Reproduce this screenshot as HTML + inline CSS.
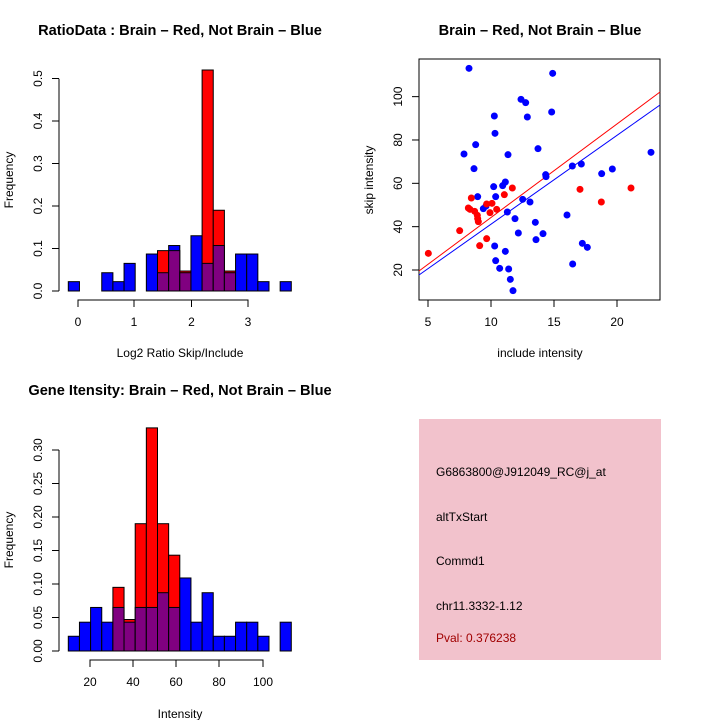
<!DOCTYPE html>
<html><head><meta charset="utf-8"><style>
html,body{margin:0;padding:0;background:#fff;}
svg{display:block;font-family:"Liberation Sans",sans-serif;}
</style></head><body>
<svg id="s" width="720" height="720" xmlns="http://www.w3.org/2000/svg">
<rect width="720" height="720" fill="#fff"/>
<g font-weight="bold" font-size="14.6" text-anchor="middle">
<text x="180" y="35">RatioData : Brain – Red, Not Brain – Blue</text>
<text x="540" y="35">Brain – Red, Not Brain – Blue</text>
<text x="180" y="395">Gene Itensity: Brain – Red, Not Brain – Blue</text>
</g>
<g font-size="12" text-anchor="middle">
<text x="180" y="357">Log2 Ratio Skip/Include</text>
<text x="540" y="357">include intensity</text>
<text x="180" y="718">Intensity</text>
<text transform="translate(13,180) rotate(-90)">Frequency</text>
<text transform="translate(373,180) rotate(-90)">skip intensity</text>
<text transform="translate(13,540) rotate(-90)">Frequency</text>
</g>
<rect x="419" y="419" width="242" height="241" fill="#f2c2cc"/>
<g font-size="12">
<text x="436" y="476">G6863800@J912049_RC@j_at</text>
<text x="436" y="521">altTxStart</text>
<text x="436" y="565">Commd1</text>
<text x="436" y="610">chr11.3332-1.12</text>
<text x="436" y="642" fill="#a00000">Pval: 0.376238</text>
</g>
<g id="g"></g>
</svg>
<script>
const g=document.getElementById('g');let h='';
function hist(x0,base,scale,bins){
  bins.forEach(([i,b,r])=>{
    const x=x0+i*11.15, w=11.15;
    const R=(v,c)=>{if(v>0)h+=`<rect x="${x}" y="${base-v*scale}" width="${w}" height="${v*scale}" fill="${c}" stroke="#000" stroke-width="1"/>`;};
    if(b>=r){R(b,'#0000ff');R(r,'#800080');}else{R(r,'#ff0000');R(b,'#800080');}
  });
}
hist(68.3,291,425,[[0,.022,0],[3,.043,0],[4,.022,0],[5,.065,0],[7,.087,0],[8,.043,.095],[9,.107,.095],[10,.043,.047],[11,.13,0],[12,.065,.52],[13,.107,.19],[14,.043,.047],[15,.087,0],[16,.087,0],[17,.022,0],[19,.022,0]]);
h+=`<path d="M59,291V78.7" stroke="#000" fill="none"/>`;
for(let i=0;i<=5;i++){const y=291-i*42.5;h+=`<path d="M52,${y}H59" stroke="#000"/><text font-size="12" text-anchor="middle" transform="translate(42,${y}) rotate(-90)">${(i/10).toFixed(1)}</text>`;}
h+=`<path d="M78,307V300H248V307M134,300V307M191.5,300V307" stroke="#000" fill="none"/>`;
[[78,0],[134,1],[191.5,2],[248,3]].forEach(([x,t])=>h+=`<text x="${x}" y="326" font-size="12" text-anchor="middle">${t}</text>`);
hist(68.3,651,670,[[0,.022,0],[1,.043,0],[2,.065,0],[3,.043,0],[4,.065,.095],[5,.043,.047],[6,.065,.19],[7,.065,.333],[8,.087,.19],[9,.065,.143],[10,.109,0],[11,.043,0],[12,.087,0],[13,.022,0],[14,.022,0],[15,.043,0],[16,.043,0],[17,.022,0],[19,.043,0]]);
h+=`<path d="M59,651V450" stroke="#000" fill="none"/>`;
for(let i=0;i<=6;i++){const y=651-i*33.5;h+=`<path d="M52,${y}H59" stroke="#000"/><text font-size="12" text-anchor="middle" transform="translate(42,${y}) rotate(-90)">${(i*0.05).toFixed(2)}</text>`;}
h+=`<path d="M90,667V660H263V667M133,660V667M176,660V667M219,660V667" stroke="#000" fill="none"/>`;
[[90,20],[133,40],[176,60],[219,80],[263,100]].forEach(([x,t])=>h+=`<text x="${x}" y="686" font-size="12" text-anchor="middle">${t}</text>`);
h+=`<rect x="419" y="59" width="241" height="241" fill="none" stroke="#000"/>`;
h+=`<path d="M428,307V300M491,307V300M554,307V300M617,307V300" stroke="#000"/>`;
[[428,5],[491,10],[554,15],[617,20]].forEach(([x,t])=>h+=`<text x="${x}" y="326" font-size="12" text-anchor="middle">${t}</text>`);
for(let v=20;v<=100;v+=20){const y=270-(v-20)*2.167;h+=`<path d="M412,${y}H419" stroke="#000"/><text font-size="12" text-anchor="middle" transform="translate(402,${y}) rotate(-90)">${v}</text>`;}
h+=`<path d="M419,271L660,92" stroke="#ff0000" stroke-width="1"/><path d="M419,275L660,105" stroke="#0000ff" stroke-width="1"/>`;
const B=[[327,55],[578,70],[483,148],[497,158],[575,186],[403,198],[502,201],[405,250],[347,284],[534,296],[312,312],[444,314],[342,356],[664,342],[637,348],[757,357],[725,371],[873,307],[557,374],[558,380],[436,396],[428,407],[401,410],[353,440],[407,440],[488,448],[510,456],[378,468],[370,476],[442,486],[465,506],[621,495],[526,517],[475,549],[549,551],[528,569],[667,580],[682,592],[404,588],[436,604],[407,632],[419,655],[446,657],[638,642],[451,688],[459,722]];
const Rd=[[205,610],[299,542],[334,444],[457,414],[433,434],[660,418],[813,414],[724,456],[325,474],[330,478],[344,484],[352,496],[353,506],[355,515],[380,462],[396,460],[410,478],[390,488],[359,587],[380,566]];
B.forEach(([x,y])=>h+=`<circle cx="${360+x/3}" cy="${50+y/3}" r="3.5" fill="#0000ff"/>`);
Rd.forEach(([x,y])=>h+=`<circle cx="${360+x/3}" cy="${50+y/3}" r="3.5" fill="#ff0000"/>`);
g.innerHTML=h;
</script>
</body></html>
